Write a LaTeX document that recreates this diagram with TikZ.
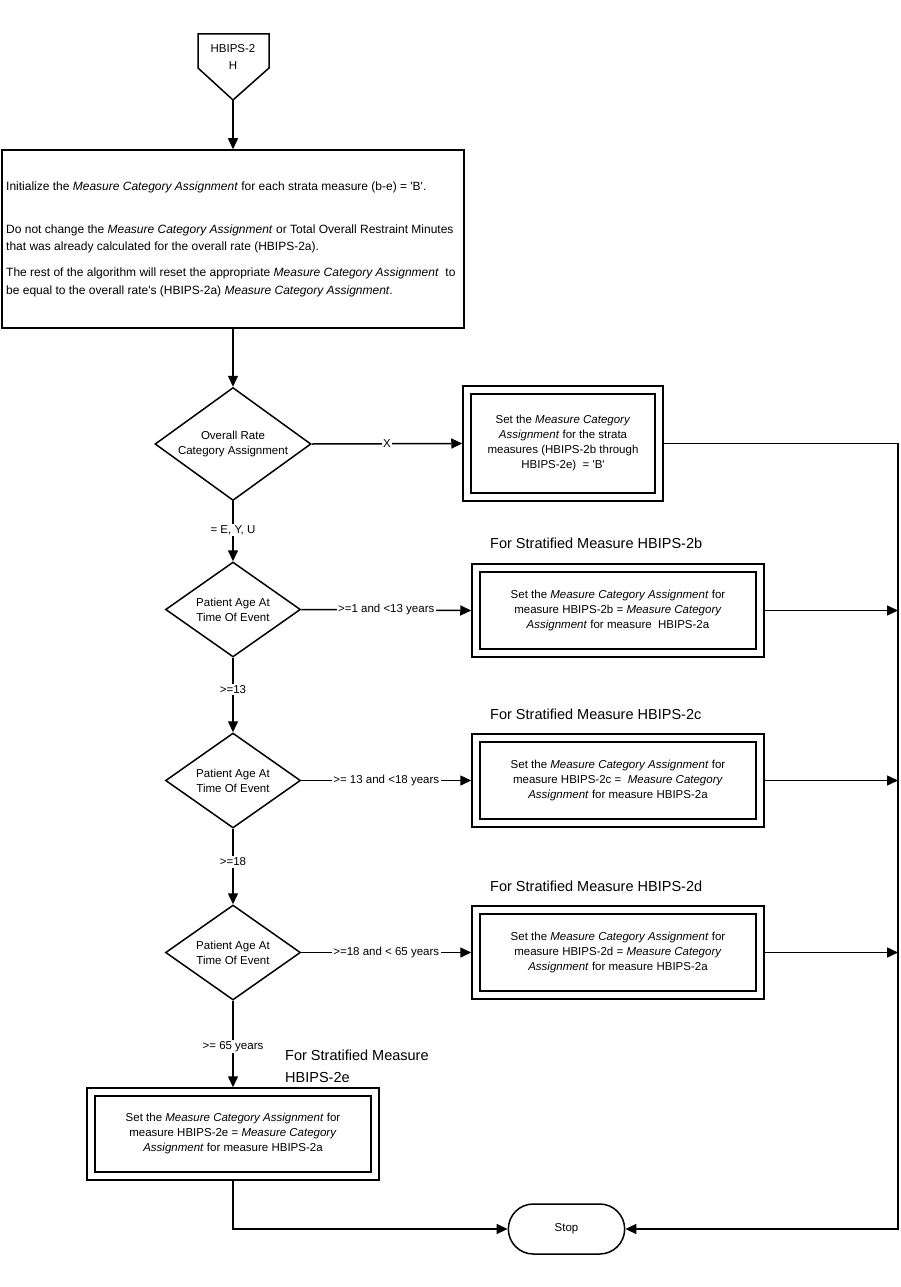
\documentclass[tikz,border=0pt]{standalone}
\usepackage{fontspec}
\setmainfont{Liberation Sans}
\usetikzlibrary{shapes.geometric,shapes.misc,arrows.meta}
\begin{document}
\begin{tikzpicture}[x=1pt,y=-1pt,
  lw/.style={line width=1.5pt},
  arr/.style={lw,-{Triangle[length=11pt,width=10pt]}},
  sm/.style={font=\fontsize{11.5}{15}\selectfont},
  bigt/.style={font=\fontsize{12}{17.5}\selectfont, inner sep=0pt, align=left},
  ttl/.style={font=\fontsize{14.5}{22}\selectfont, inner sep=0pt},
  ibox/.style={draw, line width=1.5pt, outer sep=8.75pt, inner sep=0pt, align=center, sm},
  dia/.style={draw, diamond, line width=1.5pt, inner sep=0pt},
  lab/.style={fill=white, inner sep=1.5pt, sm},
]
\useasboundingbox[fill=white] (0,0) rectangle (901,1287);
\coordinate (rail) at (898,0);

% off-page connector
\draw[lw] (198,34) -- (269,34) -- (269,68) -- (233,100) -- (198,68) -- cycle;
\node[sm, align=center, font=\fontsize{11.5}{17.5}\selectfont] (off) at (233,57) {HBIPS-2\\H};
\coordinate (offb) at (233,100);

% initial box
\node[draw, lw, minimum width=462pt, minimum height=178pt, inner sep=0pt] (init) at (233,239) {};
\node[bigt, anchor=west] (p1) at (6,187) {Initialize the \textit{Measure Category Assignment} for each strata measure (b-e) = \textquotesingle B\textquotesingle.};
\node[bigt, anchor=west] (p2) at (6,239) {Do not change the \textit{Measure Category Assignment} or Total Overall Restraint Minutes\\that was already calculated for the overall rate (HBIPS-2a).};
\node[bigt, anchor=west] (p3) at (6,282.5) {The rest of the algorithm will reset the appropriate \textit{Measure Category Assignment}\ \ to\\be equal to the overall rate\textquotesingle s (HBIPS-2a) \textit{Measure Category Assignment}.};

% diamonds
\node[dia, minimum width=156pt, minimum height=113pt] (d1) at (233,444) {};
\node[sm, align=center] at (d1) {Overall Rate\\Category Assignment};
\node[dia, minimum width=135pt, minimum height=95pt] (d2) at (233,609.5) {};
\node[sm, align=center] at (d2) {Patient Age At\\Time Of Event};
\node[dia, minimum width=135pt, minimum height=95pt] (d3) at (233,780.5) {};
\node[sm, align=center] at (d3) {Patient Age At\\Time Of Event};
\node[dia, minimum width=135pt, minimum height=95pt] (d4) at (233,952.5) {};
\node[sm, align=center] at (d4) {Patient Age At\\Time Of Event};

% double-bordered boxes (inner box node + outer frame)
\node[ibox, minimum width=184pt, minimum height=99pt] (bx) at (563,443.5) {Set the \textit{Measure Category}\\\textit{Assignment} for the strata\\measures (HBIPS-2b through\\HBIPS-2e)\ \ = \textquotesingle B\textquotesingle};
\node[ibox, minimum width=276pt, minimum height=77pt] (b2) at (618,610.5) {Set the \textit{Measure Category Assignment} for\\measure HBIPS-2b = \textit{Measure Category}\\\textit{Assignment} for measure\ \ HBIPS-2a};
\node[ibox, minimum width=276pt, minimum height=77pt] (b3) at (618,780.5) {Set the \textit{Measure Category Assignment} for\\measure HBIPS-2c = \ \textit{Measure Category}\\\textit{Assignment} for measure HBIPS-2a};
\node[ibox, minimum width=276pt, minimum height=77pt] (b4) at (618,952.5) {Set the \textit{Measure Category Assignment} for\\measure HBIPS-2d = \textit{Measure Category}\\\textit{Assignment} for measure HBIPS-2a};
\node[ibox, minimum width=276pt, minimum height=76pt] (b5) at (233,1134) {Set the \textit{Measure Category Assignment} for\\measure HBIPS-2e = \textit{Measure Category}\\\textit{Assignment} for measure HBIPS-2a};
\foreach \b in {bx,b2,b3,b4,b5}
  \draw[lw] ([shift={(0.75,0.75)}]\b.north west) rectangle ([shift={(-0.75,-0.75)}]\b.south east);

% titles
\node[ttl, anchor=west] (t2) at (490,543) {For Stratified Measure HBIPS-2b};
\node[ttl, anchor=west] (t3) at (490,714) {For Stratified Measure HBIPS-2c};
\node[ttl, anchor=west] (t4) at (490,886) {For Stratified Measure HBIPS-2d};
\node[ttl, anchor=west, align=left] (t5) at (285,1066) {For Stratified Measure\\HBIPS-2e};

% stop
\node[draw, lw, rounded rectangle, minimum width=123pt, minimum height=50pt, sm] (stop) at (566.5,1229) {Stop};

% connectors
\draw[arr] (offb) -- (init.north);
\draw[arr] (init.south) -- (d1.north);
\draw[arr] (d1.east) -- node[lab]{X} (bx.west);
\draw[arr] (bx.east) -- (bx.east -| rail) -- (rail |- stop.east) -- (stop.east);
\draw[arr] (d1.south) -- node[lab, pos=0.48]{= E, Y, U} (d2.north);
\draw[arr] (d2.east) -- node[lab]{>=1 and <13 years} (b2.west);
\draw[arr] (b2.east) -- (b2.east -| rail);
\draw[arr] (d2.south) -- node[lab, pos=0.43]{>=13} (d3.north);
\draw[arr] (d3.east) -- node[lab]{>= 13 and <18 years} (b3.west);
\draw[arr] (b3.east) -- (b3.east -| rail);
\draw[arr] (d3.south) -- node[lab, pos=0.44]{>=18} (d4.north);
\draw[arr] (d4.east) -- node[lab]{>=18 and < 65 years} (b4.west);
\draw[arr] (b4.east) -- (b4.east -| rail);
\draw[arr] (d4.south) -- node[lab, pos=0.53]{>= 65 years} (b5.north);
\draw[arr] (b5.south) -- (b5.south |- stop.west) -- (stop.west);
\end{tikzpicture}
\end{document}
